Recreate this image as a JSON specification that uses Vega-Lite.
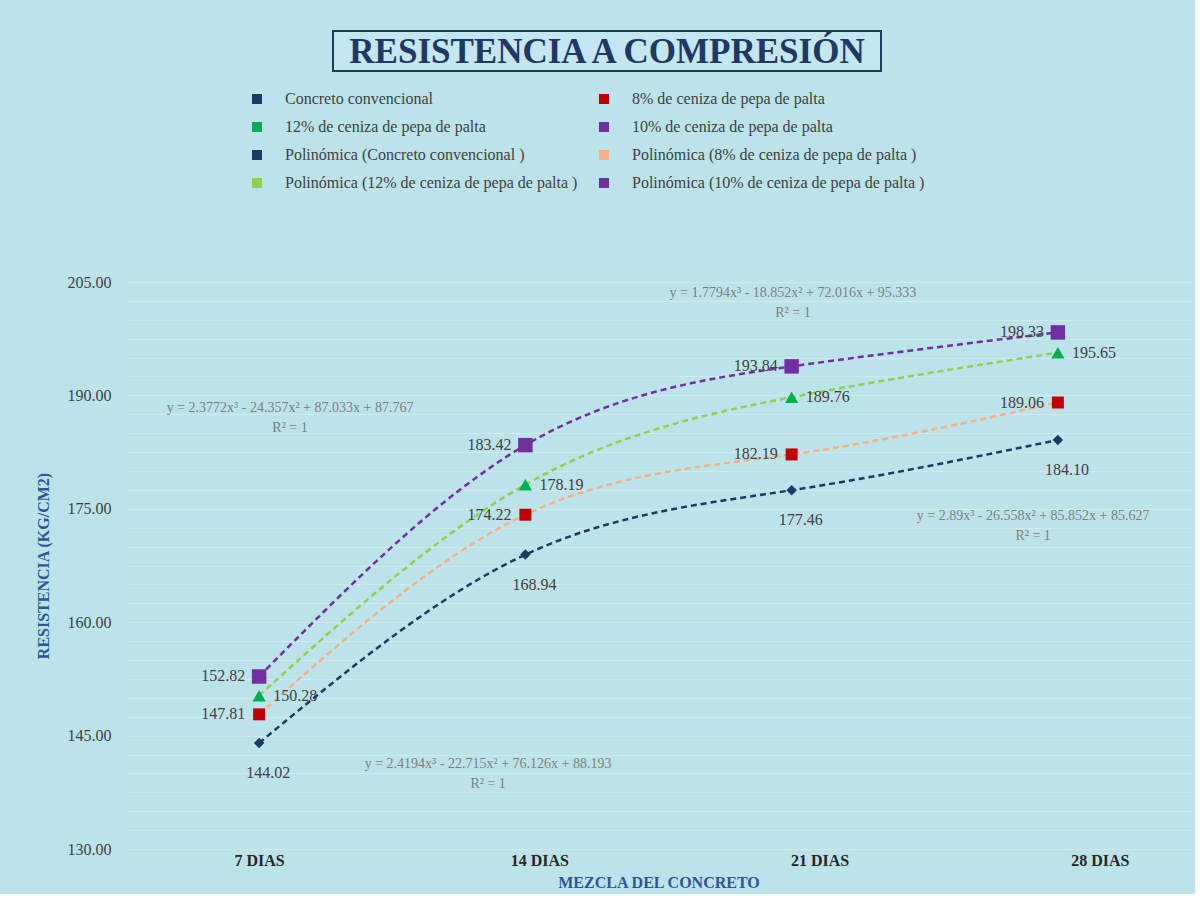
{
  "$schema": "https://vega.github.io/schema/vega-lite/v6.json",
  "background": "#bde3ea",
  "padding": {"left": 35, "top": 30, "right": 4, "bottom": 4},
  "config": {
    "font": "Liberation Serif",
    "view": {"stroke": null}
  },
  "datasets": {
    "resistencia": [
      {"mezcla": "7 DIAS", "orden": 1, "serie": "Concreto convencional", "tendencia": "Polinómica (Concreto convencional )", "resistencia": 144.02},
      {"mezcla": "14 DIAS", "orden": 2, "serie": "Concreto convencional", "tendencia": "Polinómica (Concreto convencional )", "resistencia": 168.94},
      {"mezcla": "21 DIAS", "orden": 3, "serie": "Concreto convencional", "tendencia": "Polinómica (Concreto convencional )", "resistencia": 177.46},
      {"mezcla": "28 DIAS", "orden": 4, "serie": "Concreto convencional", "tendencia": "Polinómica (Concreto convencional )", "resistencia": 184.10},
      {"mezcla": "7 DIAS", "orden": 1, "serie": "8% de ceniza de pepa de palta", "tendencia": "Polinómica (8% de ceniza de pepa de palta )", "resistencia": 147.81},
      {"mezcla": "14 DIAS", "orden": 2, "serie": "8% de ceniza de pepa de palta", "tendencia": "Polinómica (8% de ceniza de pepa de palta )", "resistencia": 174.22},
      {"mezcla": "21 DIAS", "orden": 3, "serie": "8% de ceniza de pepa de palta", "tendencia": "Polinómica (8% de ceniza de pepa de palta )", "resistencia": 182.19},
      {"mezcla": "28 DIAS", "orden": 4, "serie": "8% de ceniza de pepa de palta", "tendencia": "Polinómica (8% de ceniza de pepa de palta )", "resistencia": 189.06},
      {"mezcla": "7 DIAS", "orden": 1, "serie": "12% de ceniza de pepa de palta", "tendencia": "Polinómica (12% de ceniza de pepa de palta )", "resistencia": 150.28},
      {"mezcla": "14 DIAS", "orden": 2, "serie": "12% de ceniza de pepa de palta", "tendencia": "Polinómica (12% de ceniza de pepa de palta )", "resistencia": 178.19},
      {"mezcla": "21 DIAS", "orden": 3, "serie": "12% de ceniza de pepa de palta", "tendencia": "Polinómica (12% de ceniza de pepa de palta )", "resistencia": 189.76},
      {"mezcla": "28 DIAS", "orden": 4, "serie": "12% de ceniza de pepa de palta", "tendencia": "Polinómica (12% de ceniza de pepa de palta )", "resistencia": 195.65},
      {"mezcla": "7 DIAS", "orden": 1, "serie": "10% de ceniza de pepa de palta", "tendencia": "Polinómica (10% de ceniza de pepa de palta )", "resistencia": 152.82},
      {"mezcla": "14 DIAS", "orden": 2, "serie": "10% de ceniza de pepa de palta", "tendencia": "Polinómica (10% de ceniza de pepa de palta )", "resistencia": 183.42},
      {"mezcla": "21 DIAS", "orden": 3, "serie": "10% de ceniza de pepa de palta", "tendencia": "Polinómica (10% de ceniza de pepa de palta )", "resistencia": 193.84},
      {"mezcla": "28 DIAS", "orden": 4, "serie": "10% de ceniza de pepa de palta", "tendencia": "Polinómica (10% de ceniza de pepa de palta )", "resistencia": 198.33}
    ],
    "ecuaciones": [
      {"posicion": 1.116, "nivel": 188.3, "ecuacion": "y = 2.3772x³ - 24.357x² + 87.033x + 87.767\nR² = 1"},
      {"posicion": 1.86, "nivel": 141.2, "ecuacion": "y = 2.4194x³ - 22.715x² + 76.126x + 88.193\nR² = 1"},
      {"posicion": 3.005, "nivel": 203.6, "ecuacion": "y = 1.7794x³ - 18.852x² + 72.016x + 95.333\nR² = 1"},
      {"posicion": 3.907, "nivel": 174.1, "ecuacion": "y = 2.89x³ - 26.558x² + 85.852x + 85.627\nR² = 1"}
    ]
  },
  "spacing": 202,
  "vconcat": [
    {
      "spacing": 20,
      "hconcat": [
        {
          "width": 186,
          "height": 40,
          "view": {"stroke": null},
          "data": {"values": []},
          "mark": {"type": "text"},
          "encoding": {}
        },
        {
          "width": 548,
          "height": 40,
          "view": {"stroke": "#1f3864", "strokeWidth": 2, "fill": "#c4e6ee"},
          "data": {"values": [{"titulo": "RESISTENCIA A COMPRESIÓN"}]},
          "mark": {"type": "text", "font": "Liberation Serif", "fontSize": 35, "fontWeight": "bold", "color": "#1f3864", "baseline": "middle", "align": "center", "dy": 1},
          "encoding": {"text": {"field": "titulo"}}
        }
      ]
    },
    {
      "width": 1065,
      "height": 567,
      "data": {"name": "resistencia"},
      "encoding": {
        "x": {
          "field": "orden",
          "type": "quantitative",
          "scale": {"domain": [0.5, 4.5]},
          "axis": {
            "values": [1, 2, 3, 4],
            "labelExpr": "['7 DIAS', '14 DIAS', '21 DIAS', '28 DIAS'][datum.value - 1]",
            "grid": false,
            "ticks": false,
            "domain": false,
            "labelFont": "Liberation Serif",
            "labelFontSize": 16,
            "labelFontWeight": "bold",
            "labelColor": "#262626",
            "labelPadding": 3,
            "labelOffset": {
              "condition": [
                {"test": "datum.value === 2", "value": 14},
                {"test": "datum.value === 3", "value": 28},
                {"test": "datum.value === 4", "value": 42}
              ],
              "value": 0
            },
            "title": "MEZCLA DEL CONCRETO",
            "titleFont": "Liberation Serif",
            "titleFontSize": 16,
            "titleFontWeight": "bold",
            "titleColor": "#2f5597",
            "titlePadding": 6
          }
        },
        "y": {
          "field": "resistencia",
          "type": "quantitative",
          "scale": {"domain": [130, 205], "nice": false, "zero": false},
          "axis": {
            "values": [130, 132.5, 135, 137.5, 140, 142.5, 145, 147.5, 150, 152.5, 155, 157.5, 160, 162.5, 165, 167.5, 170, 172.5, 175, 177.5, 180, 182.5, 185, 187.5, 190, 192.5, 195, 197.5, 200, 202.5, 205],
            "labelExpr": "(datum.value - 130) % 15 === 0 ? format(datum.value, '.2f') : ''",
            "grid": true,
            "gridColor": "#d2e8ed",
            "gridWidth": 1,
            "ticks": false,
            "domain": false,
            "labelFont": "Liberation Serif",
            "labelFontSize": 16,
            "labelColor": "#404040",
            "labelPadding": 15,
            "title": "RESISTENCIA (KG/CM2)",
            "titleFont": "Liberation Serif",
            "titleFontSize": 16,
            "titleFontWeight": "bold",
            "titleColor": "#2f5597",
            "titlePadding": 16
          }
        }
      },
      "layer": [
        {
          "mark": {"type": "line", "interpolate": "natural", "strokeDash": [6, 4], "strokeWidth": 2.5},
          "encoding": {
            "color": {
              "field": "tendencia",
              "type": "nominal",
              "scale": {
                "domain": ["Concreto convencional", "8% de ceniza de pepa de palta", "12% de ceniza de pepa de palta", "10% de ceniza de pepa de palta", "Polinómica (Concreto convencional )", "Polinómica (8% de ceniza de pepa de palta )", "Polinómica (12% de ceniza de pepa de palta )", "Polinómica (10% de ceniza de pepa de palta )"],
                "range": ["#1f3864", "#c00000", "#00b050", "#7030a0", "#1f3864", "#f4b183", "#92d050", "#7030a0"]
              }
            },
            "detail": {"field": "tendencia"}
          }
        },
        {
          "mark": {"type": "point", "filled": true, "opacity": 1},
          "encoding": {
            "color": {
              "field": "serie",
              "type": "nominal",
              "legend": {
                "title": null,
                "orient": "none",
                "legendX": 123,
                "legendY": 60,
                "columns": 2,
                "values": ["Concreto convencional", "12% de ceniza de pepa de palta", "Polinómica (Concreto convencional )", "Polinómica (12% de ceniza de pepa de palta )", "8% de ceniza de pepa de palta", "10% de ceniza de pepa de palta", "Polinómica (8% de ceniza de pepa de palta )", "Polinómica (10% de ceniza de pepa de palta )"],
                "symbolType": "square",
                "symbolSize": 100,
                "symbolStrokeWidth": 0,
                "labelFont": "Liberation Serif",
                "labelFontSize": 16,
                "labelColor": "#404040",
                "labelLimit": 600,
                "labelOffset": 20,
                "rowPadding": 12,
                "columnPadding": 18
              }
            },
            "shape": {
              "field": "serie",
              "type": "nominal",
              "scale": {
                "domain": ["Concreto convencional", "8% de ceniza de pepa de palta", "12% de ceniza de pepa de palta", "10% de ceniza de pepa de palta"],
                "range": ["diamond", "square", "triangle-up", "square"]
              },
              "legend": null
            },
            "size": {
              "field": "serie",
              "type": "ordinal",
              "scale": {
                "domain": ["Concreto convencional", "8% de ceniza de pepa de palta", "12% de ceniza de pepa de palta", "10% de ceniza de pepa de palta"],
                "range": [110, 210, 150, 190]
              },
              "legend": null
            }
          }
        },
        {
          "transform": [{"filter": "datum.serie === 'Concreto convencional'"}],
          "mark": {"type": "text", "font": "Liberation Serif", "fontSize": 16, "color": "#404040", "align": "center", "baseline": "middle", "dx": 9, "dy": 30},
          "encoding": {"text": {"field": "resistencia", "type": "quantitative", "format": ".2f"}}
        },
        {
          "transform": [{"filter": "datum.serie === '8% de ceniza de pepa de palta'"}],
          "mark": {"type": "text", "font": "Liberation Serif", "fontSize": 16, "color": "#404040", "align": "right", "baseline": "middle", "dx": -14},
          "encoding": {"text": {"field": "resistencia", "type": "quantitative", "format": ".2f"}}
        },
        {
          "transform": [{"filter": "datum.serie === '12% de ceniza de pepa de palta'"}],
          "mark": {"type": "text", "font": "Liberation Serif", "fontSize": 16, "color": "#404040", "align": "left", "baseline": "middle", "dx": 14},
          "encoding": {"text": {"field": "resistencia", "type": "quantitative", "format": ".2f"}}
        },
        {
          "transform": [{"filter": "datum.serie === '10% de ceniza de pepa de palta'"}],
          "mark": {"type": "text", "font": "Liberation Serif", "fontSize": 16, "color": "#404040", "align": "right", "baseline": "middle", "dx": -14},
          "encoding": {"text": {"field": "resistencia", "type": "quantitative", "format": ".2f"}}
        },
        {
          "data": {"name": "ecuaciones"},
          "mark": {"type": "text", "font": "Liberation Serif", "fontSize": 14, "color": "#7f7f7f", "align": "center", "baseline": "middle", "lineBreak": "\n", "lineHeight": 20},
          "encoding": {
            "x": {"field": "posicion", "type": "quantitative"},
            "y": {"field": "nivel", "type": "quantitative"},
            "text": {"field": "ecuacion"}
          }
        }
      ]
    }
  ]
}
